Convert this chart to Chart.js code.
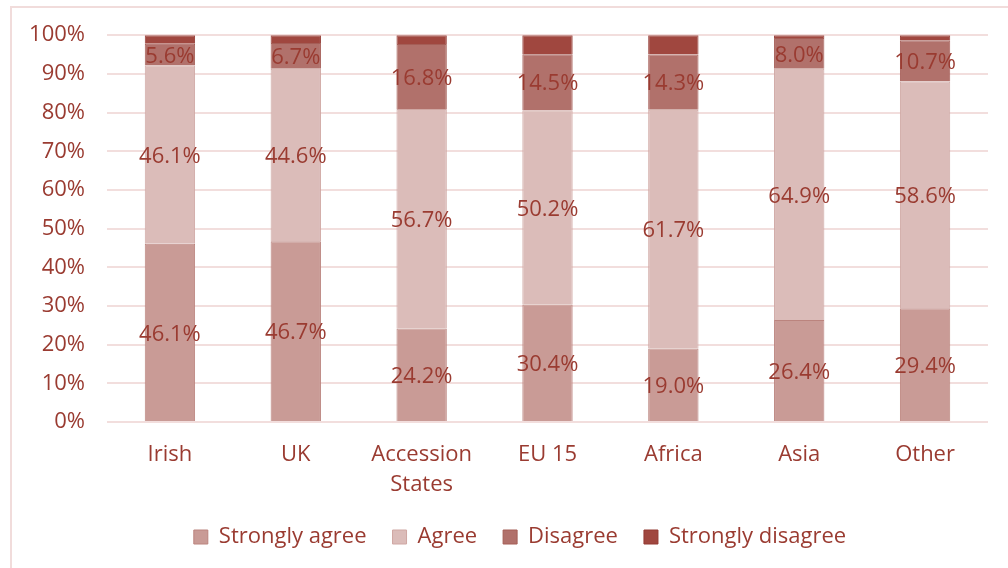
<!DOCTYPE html>
<html>
<head>
<meta charset="utf-8">
<script src="https://cdn.jsdelivr.net/npm/chart.js@4.4.1/dist/chart.umd.min.js"></script>
<style>
  html, body { margin: 0; padding: 0; background: #ffffff; }
  #wrap { width: 1008px; height: 568px; position: relative; }
</style>
</head>
<body>
<div id="wrap"><canvas id="c" width="1008" height="568"></canvas></div>
<script>
// Origin groups along the x axis
const categories = ['Irish', 'UK', ['Accession', 'States'], 'EU 15', 'Africa', 'Asia', 'Other'];

// Share of responses per group (%)
const stronglyAgree    = [46.1, 46.7, 24.2, 30.4, 19.0, 26.4, 29.4];
const agree            = [46.1, 44.6, 56.7, 50.2, 61.7, 64.9, 58.6];
const disagree         = [5.6, 6.7, 16.8, 14.5, 14.3, 8.0, 10.7];
const stronglyDisagree = [2.2, 2.0, 2.3, 4.9, 5.0, 0.7, 1.3];

// Percent axis ticks
const yTicks = [0, 10, 20, 30, 40, 50, 60, 70, 80, 90, 100];

const TEXT = '#9a3b31';
const FONT = "'Open Sans', sans-serif";
const SIZE = 22;

// Light frame around the whole figure
const framePlugin = {
  id: 'frame',
  beforeDraw(chart) {
    const ctx = chart.ctx;
    ctx.save();
    ctx.fillStyle = '#ffffff';
    ctx.fillRect(0, 0, chart.width, chart.height);
    ctx.strokeStyle = '#f1dcdb';
    ctx.lineWidth = 2;
    ctx.strokeRect(11, 7, chart.width + 20, chart.height + 20);
    ctx.restore();
  }
};

// Nudge the legend row a little to the right of the plot centre
const legendShift = {
  id: 'legendShift',
  afterLayout(chart) {
    if (chart.legend) {
      chart.legend.left += 26;
      chart.legend.right += 26;
    }
  }
};

// Value labels centred in each segment (top segment left unlabelled)
const valueLabels = {
  id: 'valueLabels',
  afterDatasetsDraw(chart) {
    const ctx = chart.ctx;
    ctx.save();
    ctx.font = SIZE + 'px ' + FONT;
    ctx.fillStyle = TEXT;
    ctx.textAlign = 'center';
    ctx.textBaseline = 'middle';
    chart.data.datasets.forEach((ds, di) => {
      if (!ds.showLabels) return;
      const meta = chart.getDatasetMeta(di);
      meta.data.forEach((bar, i) => {
        const v = ds.data[i];
        const y = (bar.y + bar.base) / 2;
        ctx.fillText(v.toFixed(1) + '%', bar.x, y + 2);
      });
    });
    ctx.restore();
  }
};

const datasets = [
  { label: 'Strongly agree', data: stronglyAgree, backgroundColor: '#c99b96', borderColor: '#bb847e', showLabels: true },
  { label: 'Agree', data: agree, backgroundColor: '#dbbcb9', borderColor: '#cfa7a3', showLabels: true },
  { label: 'Disagree', data: disagree, backgroundColor: '#b1716b', borderColor: '#a55e57', showLabels: true },
  { label: 'Strongly disagree', data: stronglyDisagree, backgroundColor: '#a0473f', borderColor: '#933a33', showLabels: false }
].map(d => Object.assign({
  borderWidth: 1,
  barPercentage: 0.4,
  categoryPercentage: 1.0
}, d));

new Chart(document.getElementById('c'), {
  type: 'bar',
  data: { labels: categories, datasets },
  plugins: [framePlugin, legendShift, valueLabels],
  options: {
    responsive: false,
    animation: false,
    devicePixelRatio: 1,
    layout: { padding: { left: 0, right: 20, top: 34, bottom: 10 } },
    plugins: {
      tooltip: { enabled: false },
      legend: {
        position: 'bottom',
        labels: {
          color: TEXT,
          font: { family: FONT, size: SIZE },
          boxWidth: 14,
          boxHeight: 14,
          padding: 26
        }
      }
    },
    scales: {
      x: {
        stacked: true,
        afterFit(scale) { scale.height = 78; },
        grid: { display: false, drawTicks: false },
        border: { display: false },
        ticks: {
          color: TEXT,
          font: { family: FONT, size: SIZE, lineHeight: 1.36 },
          padding: 18,
          maxRotation: 0
        }
      },
      y: {
        stacked: true,
        min: 0,
        max: 100,
        afterFit(scale) { scale.width = 107; },
        afterBuildTicks(scale) { scale.ticks = yTicks.map(v => ({ value: v })); },
        grid: { color: '#f2dedd', lineWidth: 2, drawTicks: false },
        border: { display: false },
        ticks: {
          color: TEXT,
          font: { family: FONT, size: SIZE },
          padding: 22,
          callback: v => v + '%'
        }
      }
    }
  }
});
</script>
</body>
</html>
